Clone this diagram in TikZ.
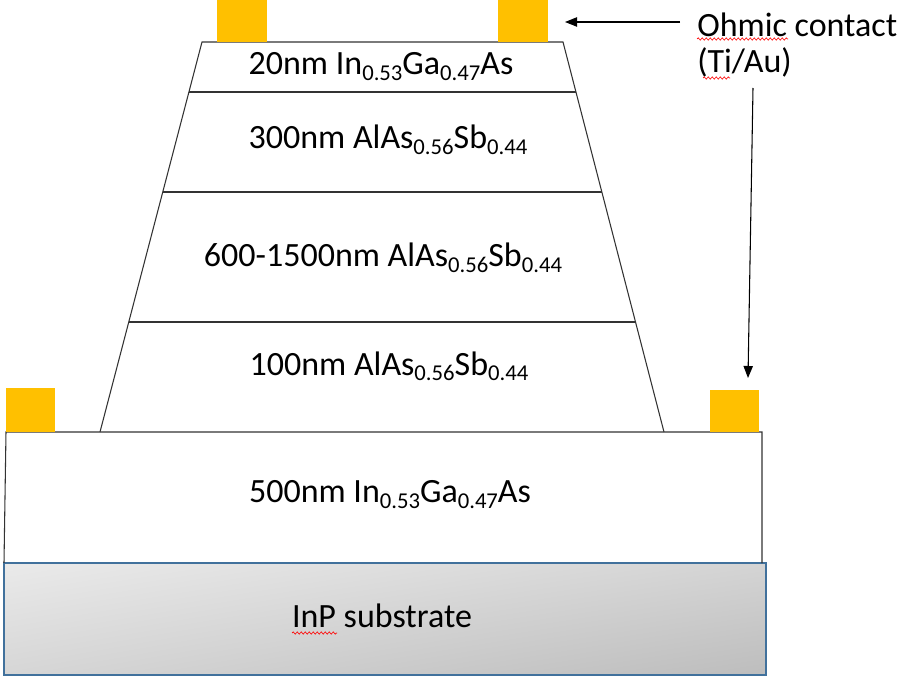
\documentclass[tikz,border=0pt]{standalone}
\usepackage{fontspec}
\setmainfont{Carlito}
\usetikzlibrary{arrows.meta,decorations.pathmorphing,shadings}
\definecolor{gold}{HTML}{FFC000}
\definecolor{subedge}{HTML}{41719C}
\definecolor{lineg}{HTML}{333333}
\definecolor{sul}{HTML}{EAEAEA}
\definecolor{sur}{HTML}{D4D4D4}
\definecolor{sll}{HTML}{D6D6D6}
\definecolor{slr}{HTML}{BDBDBD}
\newcommand\lsub[1]{\raisebox{-4.5pt}{\fontsize{17pt}{17pt}\selectfont #1}}
\tikzset{
  lbl/.style={inner sep=0pt, anchor=base, font=\fontsize{25.5pt}{30pt}\selectfont},
  lblw/.style={inner sep=0pt, anchor=base west, font=\fontsize{25.5pt}{30pt}\selectfont},
  contact/.style={fill=gold, draw=none},
  layer/.style={draw=lineg, line width=0.8pt},
  ptr/.style={draw=black, line width=0.8pt, -{Triangle[length=9pt,width=7pt]}},
  spell/.style={draw=red, line width=0.5pt, decorate, decoration={snake, amplitude=0.8pt, segment length=3pt}}
}
\begin{document}
\begin{tikzpicture}[x=0.75pt,y=-0.75pt]
\useasboundingbox (0,0) rectangle (900,677);
% substrate
\shade[upper left=sul, upper right=sur, lower left=sll, lower right=slr]
  (4,563) rectangle (766,675);
\draw[subedge, line width=1.6pt] (4,563) rectangle (766,675);
% 500nm slab
\draw[layer] (4,563) -- (6,432) -- (762,432) -- (762,563);
% mesa
\draw[layer] (100,432) -- (202,42) -- (563,42) -- (664,432);
\draw[layer] (189,92) -- (576,92);
\draw[layer] (163,192) -- (602,192);
\draw[layer] (129,322) -- (636,322);
% contacts
\fill[contact] (217,0) rectangle (267,42);
\fill[contact] (498,0) rectangle (548,42);
\fill[contact] (6,388) rectangle (55,432);
\fill[contact] (710,390) rectangle (759,432);
% labels
\node[lbl] (t1) at (381,75) {20nm In\lsub{0.53}Ga\lsub{0.47}As};
\node[lbl] (t2) at (388,149) {300nm AlAs\lsub{0.56}Sb\lsub{0.44}};
\node[lbl] (t3) at (383,267) {600-1500nm AlAs\lsub{0.56}Sb\lsub{0.44}};
\node[lbl] (t4) at (389,375) {100nm AlAs\lsub{0.56}Sb\lsub{0.44}};
\node[lbl] (t5) at (390,502) {500nm In\lsub{0.53}Ga\lsub{0.47}As};
\node[lbl] (t6) at (382,627) {InP substrate};
\node[lblw] (oc) at (697,37) {Ohmic contact};
\node[lblw] (ta) at (697,73) {(Ti/Au)};
% pointers
\coordinate (h0) at (680,22);
\coordinate (h1) at (565,22);
\coordinate (v0) at (753,88);
\coordinate (v1) at (748,378);
\draw[ptr] (h0) -- (h1);
\draw[ptr] (v0) -- (v1);
% spell-check marks
\draw[spell] (697,39) -- (788,39);
\draw[spell] (703,78) -- (730,78);
\draw[spell] (292,633) -- (337,633);
\end{tikzpicture}
\end{document}
